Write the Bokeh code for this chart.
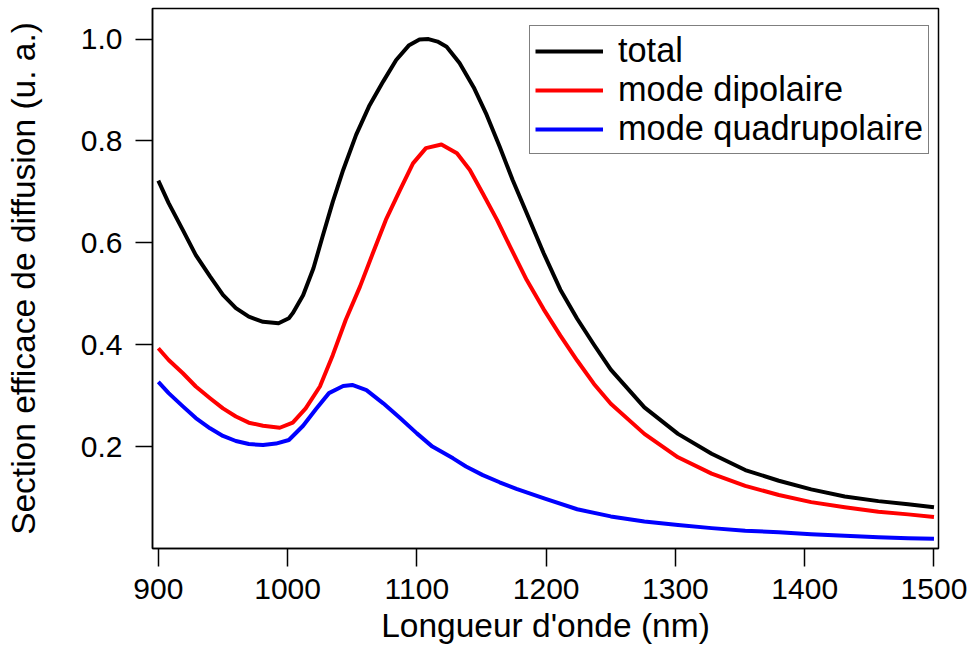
from bokeh.plotting import figure
from bokeh.models import Range1d, FixedTicker, PrintfTickFormatter, Legend, LegendItem
from bokeh.embed import file_html
from bokeh.resources import INLINE

# ---- data ----
wl_total = [900, 908, 919, 929, 940, 950, 960, 970, 981, 993, 1001, 1004, 1012, 1020,
            1027, 1035, 1043, 1053, 1063, 1074, 1084, 1094, 1102, 1109, 1116, 1123, 1133,
            1144, 1154, 1164, 1174, 1185, 1198, 1211, 1224, 1237, 1250, 1276, 1302, 1328,
            1354, 1380, 1405, 1431, 1457, 1480, 1500]
total = [0.722, 0.678, 0.625, 0.576, 0.534, 0.498, 0.472, 0.455, 0.445, 0.442, 0.452,
         0.462, 0.497, 0.550, 0.612, 0.681, 0.743, 0.812, 0.868, 0.917, 0.959, 0.988,
         0.999, 1.000, 0.995, 0.985, 0.953, 0.905, 0.851, 0.789, 0.724, 0.658, 0.580,
         0.508, 0.451, 0.400, 0.351, 0.277, 0.225, 0.186, 0.154, 0.133, 0.116, 0.102,
         0.093, 0.087, 0.081]

wl_dip = [900, 908, 919, 929, 940, 950, 960, 970, 981, 994, 1004, 1014, 1025, 1035,
          1045, 1056, 1066, 1076, 1087, 1097, 1107, 1119, 1131, 1141, 1151, 1162, 1172,
          1185, 1198, 1211, 1224, 1237, 1250, 1276, 1302, 1328, 1354, 1380, 1405, 1431,
          1457, 1480, 1500]
dipole = [0.393, 0.370, 0.344, 0.318, 0.295, 0.275, 0.259, 0.247, 0.241, 0.237, 0.247,
          0.275, 0.318, 0.380, 0.449, 0.514, 0.580, 0.645, 0.704, 0.756, 0.786, 0.793,
          0.776, 0.743, 0.697, 0.645, 0.593, 0.527, 0.470, 0.418, 0.369, 0.323, 0.284,
          0.225, 0.179, 0.147, 0.123, 0.105, 0.091, 0.081, 0.072, 0.067, 0.062]

wl_quad = [900, 908, 919, 929, 940, 950, 960, 970, 981, 991, 1001, 1012, 1022, 1032,
           1043, 1050, 1061, 1074, 1087, 1100, 1112, 1128, 1138, 1151, 1164, 1177, 1199,
           1224, 1250, 1276, 1302, 1328, 1354, 1380, 1405, 1431, 1457, 1480, 1500]
quad = [0.327, 0.305, 0.279, 0.256, 0.236, 0.221, 0.211, 0.205, 0.203, 0.206, 0.213,
        0.241, 0.274, 0.305, 0.319, 0.321, 0.311, 0.285, 0.256, 0.226, 0.200, 0.177,
        0.161, 0.144, 0.130, 0.117, 0.098, 0.077, 0.063, 0.053, 0.046, 0.040, 0.035,
        0.032, 0.028, 0.025, 0.022, 0.020, 0.019]

x_ticks = [900, 1000, 1100, 1200, 1300, 1400, 1500]
y_ticks = [0.2, 0.4, 0.6, 0.8, 1.0]
labels = ["total", "mode dipolaire", "mode quadrupolaire"]

FONT = "Liberation Sans"

p = figure(width=974, height=663, output_backend="svg", toolbar_location=None,
           x_range=Range1d(895.5, 1503.5), y_range=Range1d(0, 1.06),
           min_border_left=152, min_border_right=36, min_border_top=8, min_border_bottom=115)

p.grid.visible = False
p.background_fill_color = "white"
p.border_fill_color = "white"
p.outline_line_color = "black"
p.outline_line_width = 1.5

for ax in (p.xaxis[0], p.yaxis[0]):
    ax.axis_line_color = "black"
    ax.axis_line_width = 1.5
    ax.major_tick_line_color = "black"
    ax.major_tick_line_width = 1.5
    ax.major_tick_in = 0
    ax.minor_tick_line_color = None
    ax.major_label_text_font = FONT
    ax.major_label_text_font_size = "30px"
    ax.major_label_text_color = "black"
    ax.axis_label_text_font = FONT
    ax.axis_label_text_font_size = "33.5px"
    ax.axis_label_text_font_style = "normal"
    ax.axis_label_text_color = "black"

p.xaxis.ticker = FixedTicker(ticks=x_ticks)
p.xaxis.major_tick_out = 18
p.xaxis.major_label_standoff = 12
p.xaxis.axis_label = "Longueur d'onde (nm)"
p.xaxis.axis_label_standoff = 5

p.yaxis.ticker = FixedTicker(ticks=y_ticks)
p.yaxis.formatter = PrintfTickFormatter(format="%.1f")
p.yaxis.major_tick_out = 17
p.yaxis.major_label_standoff = 13
p.yaxis.axis_label = "Section efficace de diffusion (u. a.)"
p.yaxis.axis_label_standoff = 36

r1 = p.line(wl_total, total, line_color="#000000", line_width=4, line_join="round")
r2 = p.line(wl_dip, dipole, line_color="#ff0000", line_width=4, line_join="round")
r3 = p.line(wl_quad, quad, line_color="#0000ff", line_width=4, line_join="round")

legend = Legend(items=[LegendItem(label=labels[0], renderers=[r1]),
                       LegendItem(label=labels[1], renderers=[r2]),
                       LegendItem(label=labels[2], renderers=[r3])],
                location=(377, 394))
legend.margin = 0
legend.padding = 5
legend.spacing = 0
legend.glyph_width = 68
legend.glyph_height = 38
legend.label_height = 38
legend.label_standoff = 15
legend.label_text_font = FONT
legend.label_text_font_size = "34.3px"
legend.label_text_color = "black"
legend.border_line_color = "black"
legend.border_line_width = 1.5
legend.background_fill_color = "white"
legend.background_fill_alpha = 1.0
p.add_layout(legend)

open("out.html", "w").write(file_html(p, INLINE))
